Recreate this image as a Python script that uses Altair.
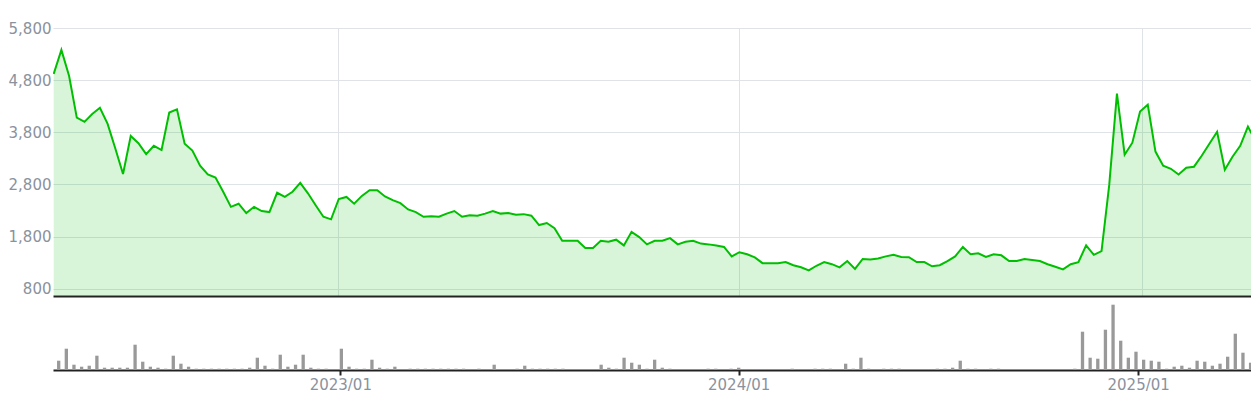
import altair as alt
import pandas as pd

# ---- data (weekly) ----
start_date = "2022-04-18"

price = [4920, 5380, 4880, 4080, 4000, 4150, 4270, 3960, 3490, 3000,
         3730, 3590, 3380, 3540, 3460, 4180, 4240, 3580, 3450, 3160,
         2990, 2930, 2660, 2370, 2430, 2250, 2370, 2290, 2270, 2640,
         2560, 2660, 2830, 2630, 2400, 2180, 2130, 2520, 2560, 2430,
         2580, 2690, 2690, 2570, 2500, 2440, 2320, 2270, 2180, 2190,
         2180, 2240, 2290, 2180, 2210, 2200, 2240, 2290, 2240, 2250,
         2220, 2230, 2200, 2020, 2060, 1960, 1720, 1720, 1720, 1580,
         1580, 1720, 1700, 1740, 1630, 1890, 1790, 1650, 1720, 1720,
         1770, 1650, 1700, 1720, 1665, 1650, 1630, 1600, 1420, 1500,
         1460, 1400, 1290, 1290, 1290, 1310, 1250, 1210, 1150, 1240,
         1310, 1270, 1210, 1330, 1180, 1370, 1360, 1380, 1420, 1450,
         1410, 1405, 1310, 1310, 1230, 1250, 1330, 1420, 1600, 1460,
         1480, 1410, 1460, 1440, 1330, 1330, 1370, 1350, 1330, 1270,
         1220, 1170, 1270, 1310, 1630, 1450, 1520, 2790, 4540, 3370,
         3600, 4200, 4330, 3430, 3160, 3100, 2990, 3120, 3140, 3350,
         3580, 3810, 3080, 3330, 3540, 3910, 3630]

volume_k = [9.3, 21.3, 5.3, 3.3, 4.3, 14.3, 2.3, 2.3, 2.3, 2.3,
            25.3, 8.3, 3.3, 2.3, 1.3, 14.3, 6.3, 3.3, 1.3, 1.3,
            1.3, 1.3, 1.3, 1.3, 1.3, 2.3, 12.3, 4.3, 1.3, 15.3,
            3.3, 5.3, 15.3, 2.3, 1.3, 1.3, 0, 21.3, 3.3, 1.3,
            1.3, 10.3, 2.3, 1.3, 3.3, 0, 1.3, 1.3, 1.3, 1.3,
            1.3, 1.3, 1.3, 1.3, 0, 1.3, 0, 5.3, 0, 0,
            1.3, 4.3, 1.3, 1.3, 1.3, 1.3, 1.3, 0, 0, 0,
            0, 5.3, 2.3, 1.3, 12.3, 7.3, 5.3, 1.3, 10.3, 2.3,
            1.3, 0, 0, 0, 0, 1.3, 1.3, 0, 1.3, 2.3,
            0, 0, 0, 0, 0, 0, 1.3, 0, 0, 1.3,
            1.3, 1.3, 0, 6.3, 1.3, 12.3, 1.3, 0, 1.3, 1.3,
            1.3, 0, 0, 0, 0, 1.3, 1.3, 2.3, 9.3, 1.3,
            1.3, 0, 1.3, 1.3, 0, 0, 0, 0, 0, 0,
            0, 0, 0, 1.3, 38.3, 12.3, 11.3, 40.3, 65.3, 29.3,
            12.3, 18.3, 10.3, 9.3, 8.3, 1.3, 3.3, 4.3, 2.3, 9.3,
            8.3, 4.3, 6.3, 13.3, 36.3, 17.3, 7.3]

y_ticks = [800, 1800, 2800, 3800, 4800, 5800]
year_ticks = [2023, 2024, 2025]

# ---- styling ----
GREEN = "#00bf00"
GRID = "#dfe2e7"
LABEL = "#8a929d"
AXIS = "#222222"
FONT = "DejaVu Sans"
W = 1198

dates = pd.date_range(start_date, periods=len(price), freq="7D")
df = pd.DataFrame({"date": dates, "price": price, "volume": volume_k})


def dt(ts):
    ts = pd.Timestamp(ts)
    return alt.DateTime(year=ts.year, month=ts.month, date=ts.day,
                        hours=ts.hour, minutes=ts.minute)


tick_dates = [alt.DateTime(year=y, month=1, date=1) for y in year_ticks]
# the view is cut at the right edge, as in the reference
x_domain = [dt(dates[0] - pd.Timedelta(hours=15)),
            dt(dates[-1] - pd.Timedelta(hours=101))]

price_x = alt.X(
    "date:T",
    scale=alt.Scale(domain=x_domain),
    axis=alt.Axis(values=tick_dates, grid=True, gridColor=GRID, gridWidth=1,
                  labels=False, ticks=False, domain=True, domainColor=AXIS,
                  domainWidth=2, title=None),
)
price_y = alt.Y(
    "price:Q",
    scale=alt.Scale(domain=[660, 5800], zero=False, nice=False),
    axis=alt.Axis(values=y_ticks, format=",.0f", grid=True, gridColor=GRID,
                  domain=False, ticks=False, labelColor=LABEL, labelFontSize=15,
                  labelFont=FONT, labelPadding=2, title=None),
)

base = alt.Chart(df)
area = base.mark_area(color=GREEN, opacity=0.15, clip=True).encode(x=price_x, y=price_y)
line = base.mark_line(color=GREEN, strokeWidth=2, clip=True).encode(x=price_x, y=price_y)
price_chart = alt.layer(area, line).properties(width=W, height=268)

vol = base.mark_bar(color="#999999", size=3.3, clip=True).encode(
    x=alt.X(
        "date:T",
        scale=alt.Scale(domain=x_domain),
        axis=alt.Axis(values=tick_dates, format="%Y/%m", grid=False,
                      domainColor=AXIS, domainWidth=2, tickColor=AXIS,
                      tickWidth=2, tickSize=5, labelColor=LABEL,
                      labelFontSize=15, labelFont=FONT, labelPadding=2,
                      title=None),
    ),
    y=alt.Y("volume:Q", scale=alt.Scale(domain=[0, 71]), axis=None),
).properties(width=W, height=71)

chart = (
    alt.vconcat(price_chart, vol, spacing=2)
    .configure_view(stroke=None)
    .properties(padding={"left": 0, "right": 0, "top": 13, "bottom": 0})
)

chart.save("out.html", embed_options={"renderer": "svg", "actions": False})
